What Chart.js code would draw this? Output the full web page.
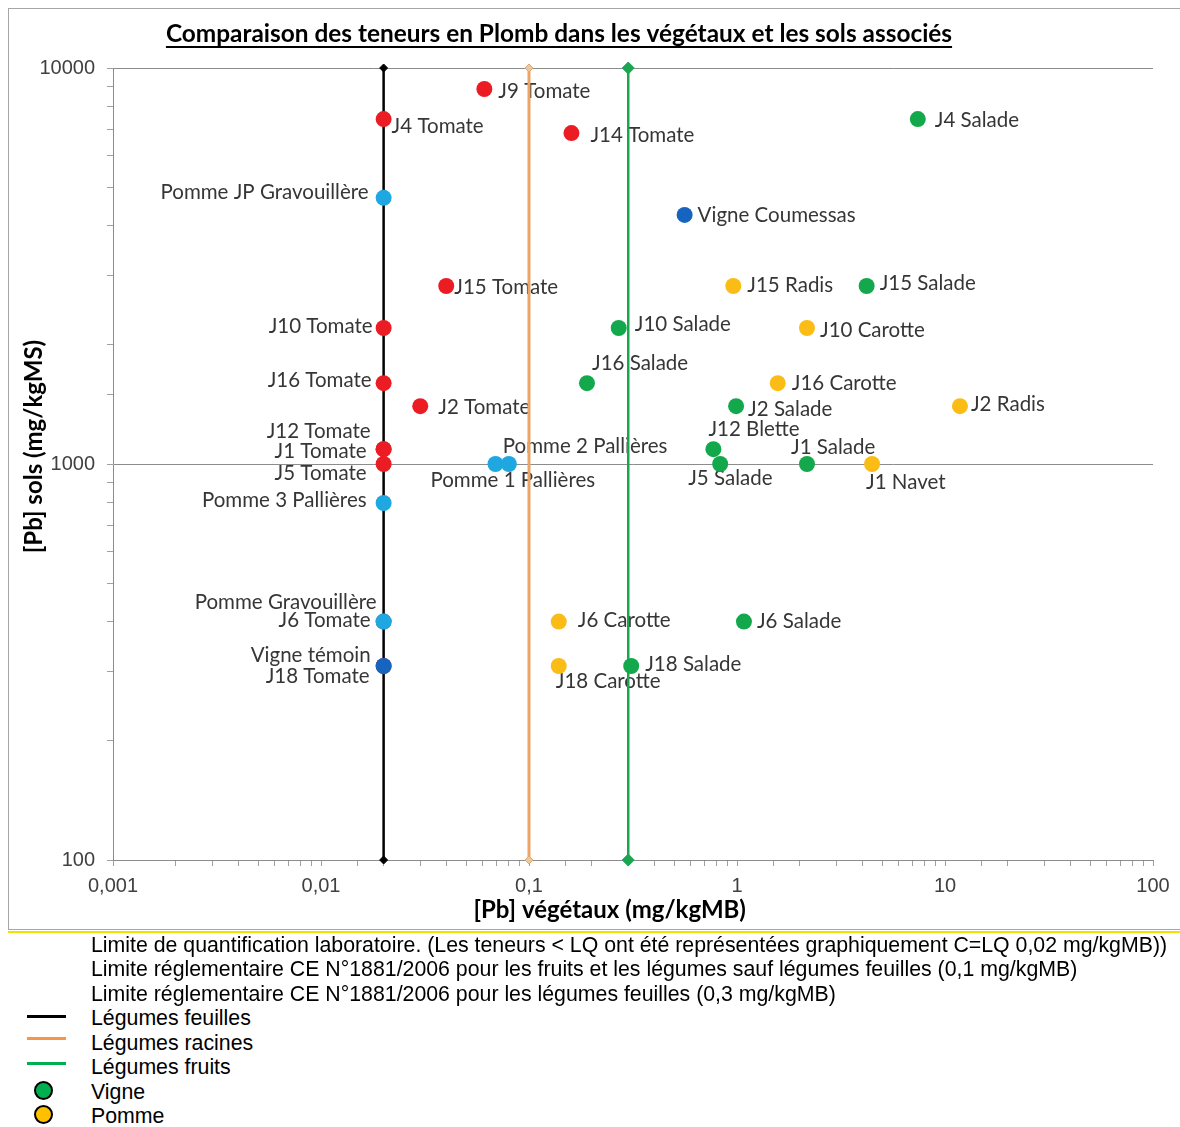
<!DOCTYPE html>
<html lang="fr">
<head>
<meta charset="utf-8">
<title>Plomb végétaux / sols</title>
<script src="https://cdn.jsdelivr.net/npm/chart.js@4.4.1/dist/chart.umd.min.js"></script>
<style>
  body { margin: 0; background: #fff; }
  #wrap { position: relative; width: 1180px; height: 1127px; overflow: hidden; }
  #chart { position: absolute; left: 0; top: 0; }
  .leg { position: absolute; left: 91px; font: 21.3px "Liberation Sans", Arial, sans-serif; color: #000; white-space: nowrap; line-height: 24px; }
  .sw { position: absolute; left: 27px; width: 39px; height: 3px; }
  .dot { position: absolute; left: 34px; width: 15px; height: 15px; border: 2px solid #000; border-radius: 50%; }
</style>
</head>
<body>
<div id="wrap">
  <canvas id="chart" width="1180" height="935"></canvas>
  <div class="leg" style="top:933px">Limite de quantification laboratoire. (Les teneurs &lt; LQ ont été représentées graphiquement C=LQ 0,02 mg/kgMB))</div>
  <div class="leg" style="top:957px">Limite réglementaire CE N°1881/2006 pour les fruits et les légumes sauf légumes feuilles (0,1 mg/kgMB)</div>
  <div class="leg" style="top:982px">Limite réglementaire CE N°1881/2006 pour les légumes feuilles (0,3 mg/kgMB)</div>
  <div class="sw" style="top:1015px;background:#000"></div>
  <div class="leg" style="top:1006px">Légumes feuilles</div>
  <div class="sw" style="top:1037px;background:#f79646"></div>
  <div class="leg" style="top:1031px">Légumes racines</div>
  <div class="sw" style="top:1062px;background:#00b050"></div>
  <div class="leg" style="top:1055px">Légumes fruits</div>
  <div class="dot" style="top:1081px;background:#00b050"></div>
  <div class="leg" style="top:1080px">Vigne</div>
  <div class="dot" style="top:1105px;background:#ffc000"></div>
  <div class="leg" style="top:1104px">Pomme</div>
</div>
<script>
// ---- Teneurs en plomb : [Pb] végétaux (mg/kgMB) et [Pb] sols (mg/kgMS) ----
const tomateNames = ['J9 Tomate', 'J4 Tomate', 'J14 Tomate', 'J15 Tomate', 'J10 Tomate', 'J16 Tomate',
                     'J2 Tomate', 'J12 Tomate', 'J1 Tomate', 'J5 Tomate', 'J6 Tomate', 'J18 Tomate'];
const tomateVeg = [0.061, 0.02, 0.16, 0.040, 0.02, 0.02, 0.030, 0.02, 0.02, 0.02, 0.02, 0.02];
const tomateSol = [8850, 7430, 6850, 2815, 2205, 1600, 1400, 1090, 1090, 1000, 400, 309];

const pommeNames = ['Pomme JP Gravouillère', 'Pomme 3 Pallières', 'Pomme Gravouillère',
                    'Pomme 1 Pallières', 'Pomme 2 Pallières'];
const pommeVeg = [0.02, 0.02, 0.02, 0.069, 0.080];
const pommeSol = [4700, 797, 400, 1000, 1000];

const vigneNames = ['Vigne Coumessas', 'Vigne témoin'];
const vigneVeg = [0.56, 0.02];
const vigneSol = [4255, 309];

const feuillesNames = ['J4 Salade', 'J15 Salade', 'J10 Salade', 'J16 Salade', 'J2 Salade',
                       'J12 Blette', 'J5 Salade', 'J1 Salade', 'J6 Salade', 'J18 Salade'];
const feuillesVeg = [7.4, 4.2, 0.27, 0.19, 0.99, 0.77, 0.83, 2.17, 1.08, 0.31];
const feuillesSol = [7430, 2815, 2205, 1600, 1400, 1090, 1000, 1000, 400, 309];

const racinesNames = ['J15 Radis', 'J10 Carotte', 'J16 Carotte', 'J2 Radis', 'J1 Navet',
                      'J6 Carotte', 'J18 Carotte'];
const racinesVeg = [0.96, 2.17, 1.57, 11.8, 4.46, 0.139, 0.139];
const racinesSol = [2815, 2205, 1600, 1400, 1000, 400, 309];

// Limites : LQ laboratoire, CE fruits et légumes, CE légumes feuilles
const limiteNames = ['LQ', 'CE 0,1', 'CE 0,3'];
const limiteVeg = [0.02, 0.1, 0.3];
const solRange = [100, 10000];

const xTickLabels = ['0,001', '0,01', '0,1', '1', '10', '100'];
const yTickLabels = ['100', '1000', '10000'];

// Label placement around each marker: [dx, dy, text alignment]
const labelPlacement = {
  'J9 Tomate': [14, 2, 'left'], 'J4 Tomate': [8, 7, 'left'], 'J14 Tomate': [19, 2, 'left'],
  'J15 Tomate': [8, 1, 'left'], 'J2 Tomate': [18, 1, 'left'],
  'J10 Tomate': [-11, -2, 'right'], 'J16 Tomate': [-12, -3, 'right'],
  'J12 Tomate': [-13, -18, 'right'], 'J1 Tomate': [-17, 2, 'right'], 'J5 Tomate': [-17, 9, 'right'],
  'J6 Tomate': [-13, -1, 'right'], 'J18 Tomate': [-14, 10, 'right'],
  'Pomme JP Gravouillère': [-15, -5, 'right'], 'Pomme 3 Pallières': [-17, -3, 'right'],
  'Pomme Gravouillère': [-7, -19, 'right'],
  'Pomme 1 Pallières': [-65, 16, 'left'], 'Pomme 2 Pallières': [-6, -18, 'left'],
  'Vigne Coumessas': [13, 0, 'left'], 'Vigne témoin': [-13, -11, 'right'],
  'J4 Salade': [17, 1, 'left'], 'J15 Salade': [13, -3, 'left'], 'J10 Salade': [16, -4, 'left'],
  'J16 Salade': [5, -20, 'left'], 'J2 Salade': [12, 3, 'left'], 'J12 Blette': [-5, -20, 'left'],
  'J5 Salade': [-32, 14, 'left'], 'J1 Salade': [-16, -17, 'left'], 'J6 Salade': [13, 0, 'left'],
  'J18 Salade': [14, -2, 'left'],
  'J15 Radis': [14, -1, 'left'], 'J10 Carotte': [13, 2, 'left'], 'J16 Carotte': [14, 0, 'left'],
  'J2 Radis': [11, -2, 'left'], 'J1 Navet': [-6, 18, 'left'], 'J6 Carotte': [19, -1, 'left'],
  'J18 Carotte': [-3, 15, 'left']
};

const pts = (xs, ys, names) => xs.map((x, i) => ({ x: x, y: ys[i], name: names[i] }));

function pointSet(label, xs, ys, names, color, order) {
  return {
    type: 'scatter', label: label, data: pts(xs, ys, names), order: order,
    pointRadius: 8, pointHoverRadius: 8, pointBackgroundColor: color,
    pointBorderColor: color, pointBorderWidth: 0, showLine: false
  };
}

function limitSet(i, color, fill, radius, width) {
  return {
    type: 'line', label: limiteNames[i], order: 10 + i, clip: false,
    data: solRange.map(y => ({ x: limiteVeg[i], y: y })),
    borderColor: color, borderWidth: width, pointStyle: 'rectRot',
    pointRadius: radius, pointBackgroundColor: fill, pointBorderColor: color, pointBorderWidth: 1
  };
}

const datasets = [
  pointSet('Vigne', vigneVeg, vigneSol, vigneNames, '#1565c0', 1),
  pointSet('Pomme', pommeVeg, pommeSol, pommeNames, '#1ea7e1', 2),
  pointSet('Légumes feuilles', feuillesVeg, feuillesSol, feuillesNames, '#13a84b', 3),
  pointSet('Légumes racines', racinesVeg, racinesSol, racinesNames, '#fbbc16', 4),
  pointSet('Légumes fruits', tomateVeg, tomateSol, tomateNames, '#ec1c24', 5),
  limitSet(0, '#000000', '#000000', 4, 2.5),
  limitSet(1, '#eba468', '#e8c9a2', 4, 3),
  limitSet(2, '#1aa651', '#1aa651', 6, 2.5)
];

const LABEL_FONT = '20.5px Lato, "Open Sans", sans-serif';
const TITLE_FONT = 'bold 24.4px Lato, "Open Sans", sans-serif';
const TITLE = 'Comparaison des teneurs en Plomb dans les végétaux et les sols associés';

const decor = {
  id: 'decor',
  beforeDraw(chart) {
    const ctx = chart.ctx;
    ctx.save();
    ctx.fillStyle = '#fff';
    ctx.fillRect(0, 0, chart.width, chart.height);
    ctx.restore();
  },
  beforeDatasetsDraw(chart) {
    const ctx = chart.ctx;
    ctx.save();
    ctx.font = LABEL_FONT;
    ctx.fillStyle = '#363636';
    ctx.textBaseline = 'middle';
    chart.data.datasets.forEach((ds, di) => {
      if (ds.type !== 'scatter') return;
      const meta = chart.getDatasetMeta(di);
      meta.data.forEach((el, i) => {
        const name = ds.data[i].name;
        const p = labelPlacement[name] || [12, 0, 'left'];
        ctx.textAlign = p[2];
        ctx.fillText(name, el.x + p[0], el.y + p[1]);
      });
    });
    ctx.restore();
  },
  afterDraw(chart) {
    const ctx = chart.ctx;
    ctx.save();
    // outer frame of the chart object
    ctx.strokeStyle = '#a6a6a6';
    ctx.lineWidth = 1;
    ctx.strokeRect(8.5, 8.5, 1200, 921);
    ctx.strokeStyle = '#f2e200';
    ctx.lineWidth = 2;
    ctx.beginPath();
    ctx.moveTo(8, 932);
    ctx.lineTo(1180, 932);
    ctx.stroke();
    // underlined title
    ctx.font = TITLE_FONT;
    ctx.fillStyle = '#000';
    ctx.textAlign = 'center';
    ctx.textBaseline = 'middle';
    const cx = 559, cy = 34;
    ctx.fillText(TITLE, cx, cy);
    const w = ctx.measureText(TITLE).width;
    ctx.fillRect(cx - w / 2, cy + 12, w, 2);
    ctx.restore();
  }
};

const decade = v => Math.abs(Math.log10(v) - Math.round(Math.log10(v))) < 1e-9;

new Chart(document.getElementById('chart'), {
  data: { datasets: datasets },
  options: {
    responsive: false,
    animation: false,
    layout: { padding: { top: 68, right: 27, left: 0, bottom: 0 } },
    plugins: { legend: { display: false }, tooltip: { enabled: false }, title: { display: false } },
    scales: {
      x: {
        type: 'logarithmic', min: 0.001, max: 100, position: 'bottom',
        afterFit: s => { s.height = 75; },
        border: { display: true, color: '#8c8c8c', width: 1 },
        grid: { drawOnChartArea: false, drawTicks: true, tickLength: 6, tickColor: '#a0a0a0' },
        ticks: {
          autoSkip: false, maxRotation: 0, padding: 8, color: '#404040',
          font: { family: '"Liberation Sans", Arial, sans-serif', size: 20 },
          callback: v => decade(v) ? xTickLabels[Math.round(Math.log10(v)) + 3] : ''
        },
        title: {
          display: true, text: '[Pb] végétaux (mg/kgMB)' + '        ', color: '#000',
          font: { family: 'Lato, "Open Sans", sans-serif', size: 24, weight: 'bold' },
          padding: { top: 0, bottom: 10 }
        }
      },
      y: {
        type: 'logarithmic', min: 100, max: 10000,
        afterFit: s => { s.width = 113; },
        border: { display: true, color: '#8c8c8c', width: 1 },
        grid: {
          drawTicks: true, tickLength: 6, tickColor: '#a0a0a0', lineWidth: 1,
          color: ctx => (ctx.tick && decade(ctx.tick.value)) ? '#8c8c8c' : 'rgba(0,0,0,0)'
        },
        ticks: {
          autoSkip: false, padding: 12, color: '#404040',
          font: { family: '"Liberation Sans", Arial, sans-serif', size: 20 },
          callback: v => decade(v) ? yTickLabels[Math.round(Math.log10(v)) - 2] : ''
        },
        title: {
          display: true, text: '      ' + '[Pb] sols (mg/kgMS)', color: '#000',
          font: { family: 'Lato, "Open Sans", sans-serif', size: 24, weight: 'bold' },
          padding: { top: 20, bottom: 0 }
        }
      }
    }
  },
  plugins: [decor]
});
</script>
</body>
</html>
